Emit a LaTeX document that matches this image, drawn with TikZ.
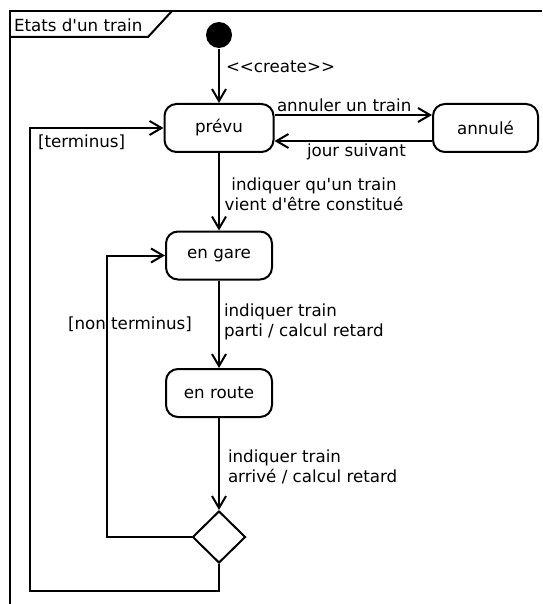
\documentclass[tikz,border=0pt]{standalone}
\usepackage{fontspec}
\setmainfont{DejaVu Sans}[Ligatures=TeXOff]
\usetikzlibrary{arrows.meta,shapes.geometric}
\begin{document}
\begin{tikzpicture}[x=0.5pt,y=-0.5pt,
  font=\fontsize{8.35}{10}\selectfont,
  line width=1pt,
  state/.style={draw,rounded corners=6pt,minimum width=53pt,minimum height=24pt,inner sep=0pt},
  choice/.style={draw,diamond,aspect=1,minimum width=26.5pt,minimum height=26pt,inner sep=0pt},
  arr/.style={-{Straight Barb[length=6pt,width=7pt]}},
  lbl/.style={inner sep=0pt}]
\useasboundingbox (0,0) rectangle (542,604);

% frame with its name tab
\draw (10,604) -- (10,11) -- (542,11);
\draw (10,37) -- (148,37) -- (172,11);
\node[lbl,anchor=base west] (title) at (13,32) {Etats d'un train};

% states
\node[circle,fill,inner sep=0pt,minimum size=13pt] (init) at (219,35) {};
\node[state,minimum width=54.5pt] (prevu) at (219,128) {prévu};
\node[state,minimum width=52.5pt] (annule) at (485.5,128) {annulé};
\node[state] (gare) at (219,255.5) {en gare};
\node[state] (route) at (219,393) {en route};
\node[choice] (dec) at (219,537) {};
\coordinate (back) at (30,591);

% transitions
\draw[arr] (init) -- (prevu);
\draw[arr] ([yshift=6.5pt]prevu.east) -- ([yshift=6.5pt]annule.west);
\draw[arr] ([yshift=-6.5pt]annule.west) -- ([yshift=-6.5pt]prevu.east);
\draw[arr] (prevu) -- (gare);
\draw[arr] (gare) -- (route);
\draw[arr] (route) -- (dec.north);
\draw[arr] (dec.west) -- ++(-85,0) |- (gare.west);
\draw[arr] (dec.south) |- (back) |- (prevu.west);

% transition labels
\node[lbl,anchor=base west] (lcreate) at (225,73) {<<create>>};
\node[lbl,anchor=base west] (lannul) at (276,112) {annuler un train};
\node[lbl,anchor=base west] (ljour) at (306,157) {jour suivant};
\node[lbl,align=center] (lconst) at (314,194) {indiquer qu'un train\\vient d'être constitué};
\node[lbl,anchor=base west] (lterm) at (37,148) {[terminus]};
\node[lbl,anchor=base west] (lnonterm) at (67,329) {[non terminus]};
\node[lbl,align=left,anchor=west] (lparti) at (223,322) {indiquer train\\parti / calcul retard};
\node[lbl,align=left,anchor=west] (larrive) at (227,467) {indiquer train\\arrivé / calcul retard};
\end{tikzpicture}
\end{document}
